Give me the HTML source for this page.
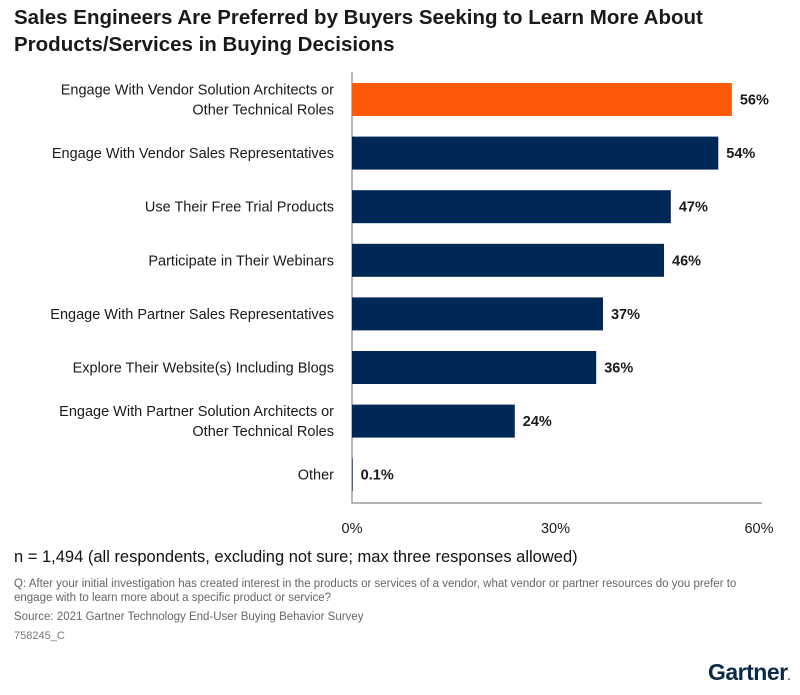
<!DOCTYPE html>
<html><head><meta charset="utf-8"><style>
body{margin:0;background:#fff;font-family:"Liberation Sans",Arial,sans-serif;}
#wrap{position:relative;width:800px;height:695px;overflow:hidden;}
.t{position:absolute;}
</style></head><body>
<div id="wrap">
<div class="t" style="left:14px;top:4px;font-size:20.5px;font-weight:bold;color:#1a1a1a;line-height:27px;letter-spacing:0px;">Sales Engineers Are Preferred by Buyers Seeking to Learn More About<br>Products/Services in Buying Decisions</div>
<svg id="chart" width="800" height="695" style="position:absolute;left:0;top:0"></svg>
<div class="t" style="left:14px;top:548px;font-size:16.5px;color:#111;">n = 1,494 (all respondents, excluding not sure; max three responses allowed)</div>
<div class="t" style="left:14px;top:577px;font-size:11.5px;color:#666;line-height:14px;">Q: After your initial investigation has created interest in the products or services of a vendor, what vendor or partner resources do you prefer to<br>engage with to learn more about a specific product or service?</div>
<div class="t" style="left:14px;top:611px;font-size:11.5px;color:#666;">Source: 2021 Gartner Technology End-User Buying Behavior Survey</div>
<div class="t" style="left:14px;top:630px;font-size:11px;color:#777;">758245_C</div>
<div class="t" style="left:708px;top:659px;font-size:23px;font-weight:bold;color:#0b2a4a;letter-spacing:-0.5px;">Gartner<span style="font-size:10px">.</span></div>
</div>
<script>
const categories=[["Engage With Vendor Solution Architects or","Other Technical Roles"],["Engage With Vendor Sales Representatives"],["Use Their Free Trial Products"],["Participate in Their Webinars"],["Engage With Partner Sales Representatives"],["Explore Their Website(s) Including Blogs"],["Engage With Partner Solution Architects or","Other Technical Roles"],["Other"]];
const values=[56,54,47,46,37,36,24,0.1];
const valueLabels=["56%","54%","47%","46%","37%","36%","24%","0.1%"];
const ticks=[0,30,60];
const tickLabels=["0%","30%","60%"];
const svg=document.getElementById('chart');
const NS='http://www.w3.org/2000/svg';
const x0=352,pxPer=(759-352)/60;
const xs=v=>x0+v*pxPer;
const ys=i=>83+i*53.6;
const bh=33;
function mk(tag,attrs){const e=document.createElementNS(NS,tag);for(const k in attrs)e.setAttribute(k,attrs[k]);svg.appendChild(e);return e;}
const ax=mk('path',{d:`M${x0} 72 V503 H762`,stroke:'#888',fill:'none','stroke-width':1.2});


values.forEach((v,i)=>{
  const y=ys(i);
  const r=mk('rect',{x:x0,y:y,width:Math.max(0,xs(v)-x0),height:bh,fill:i===0?'#ff5a0a':'#002856'});
  
  
  const vl=mk('text',{x:xs(v)+8,y:y+bh/2+5,'font-size':14.5,'font-weight':'bold',fill:'#1a1a1a','font-family':'Liberation Sans, sans-serif'});
  vl.textContent=valueLabels[i];
  
  
  const lines=categories[i];
  const t=mk('text',{x:334,'text-anchor':'end','font-size':14.5,fill:'#1a1a1a','font-family':'Liberation Sans, sans-serif'});
  
  
  lines.forEach((ln,j)=>{const s=document.createElementNS(NS,'tspan');s.setAttribute('x',334);s.setAttribute('y',y+bh/2+5+(j-(lines.length-1)/2)*20);s.textContent=ln;t.appendChild(s);});
});
ticks.forEach((tk,i)=>{
  const t=mk('text',{x:xs(tk),y:533,'text-anchor':'middle','font-size':14.5,fill:'#1a1a1a','font-family':'Liberation Sans, sans-serif'});
  t.textContent=tickLabels[i];
  
  
});
</script>
</body></html>
